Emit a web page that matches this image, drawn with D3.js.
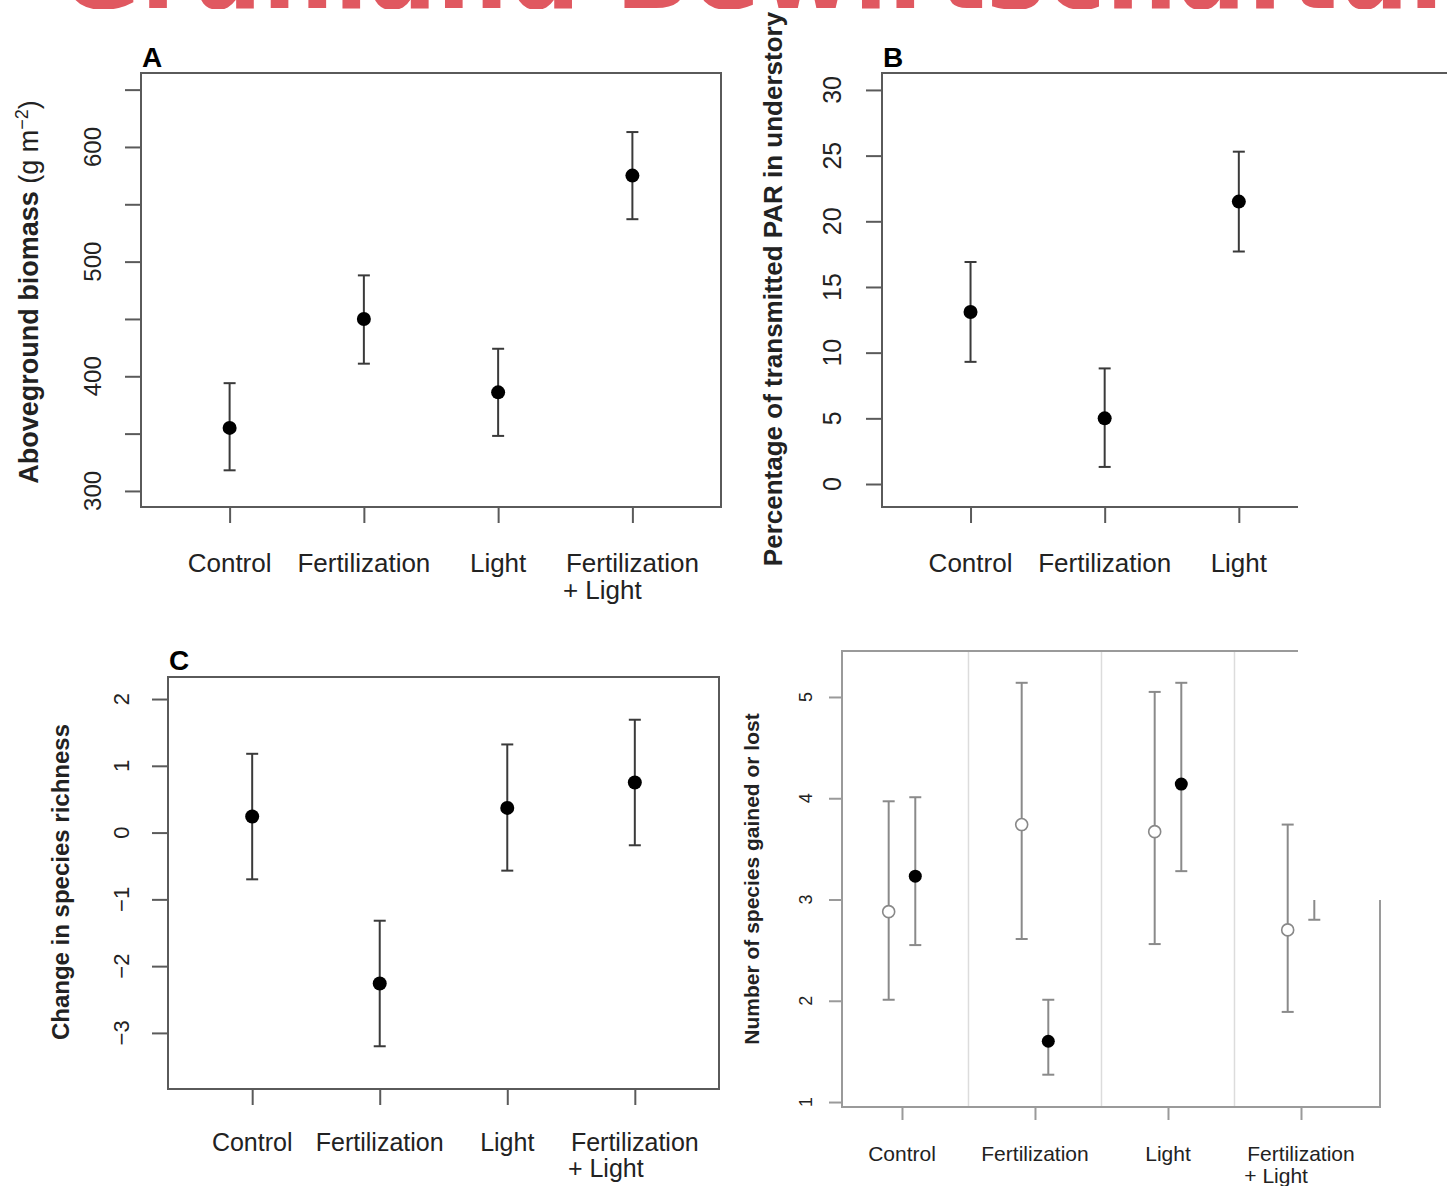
<!DOCTYPE html>
<html>
<head>
<meta charset="utf-8">
<script src="https://cdn.jsdelivr.net/npm/d3@7"></script>
<style>
  body { margin: 0; background: #fff; }
  svg { display: block; font-family: "Liberation Sans", Arial, sans-serif; }
</style>
</head>
<body>
<svg id="chart" width="1447" height="1186"></svg>
<script>
// treatment groups, same order in every panel
var groups = ["Control", "Fertilization", "Light", "Fertilization\n+ Light"];

// A - aboveground biomass (g m-2)
var biomassMean = [355, 450, 386, 575];
var biomassLow  = [318, 411, 348, 537];
var biomassHigh = [394, 488, 424, 613];
var biomassTicks = [300, 350, 400, 450, 500, 550, 600, 650];
var biomassLabels = [300, 400, 500, 600];

// B - transmitted PAR (%)
var parMean = [13.1, 5.0, 21.5];
var parLow  = [9.3, 1.3, 17.7];
var parHigh = [16.9, 8.8, 25.3];
var parTicks = [0, 5, 10, 15, 20, 25, 30];

// C - change in species richness
var richMean = [0.24, -2.26, 0.37, 0.75];
var richLow  = [-0.70, -3.20, -0.57, -0.19];
var richHigh = [1.18, -1.32, 1.32, 1.69];
var richTicks = [-3, -2, -1, 0, 1, 2];

// D - species gained / lost (open and filled symbols)
var openMean = [2.88, 3.74, 3.67, 2.70];
var openLow  = [2.01, 2.61, 2.56, 1.89];
var openHigh = [3.97, 5.14, 5.05, 3.74];
var filledMean = [3.23, 1.60, 4.14, 3.55];
var filledLow  = [2.55, 1.27, 3.28, 2.80];
var filledHigh = [4.01, 2.01, 5.14, 4.30];
var countTicks = [1, 2, 3, 4, 5];

var svg = d3.select("#chart");

function fmt(d) { return d < 0 ? "\u2212" + Math.abs(d) : String(d); }

function rows(mean, low, high) {
  return mean.map(function(m, i) { return {i: i + 1, mean: m, low: low[i], high: high[i]}; });
}

// draws one R-style panel: frame, ticks, rotated y labels, error bars
function drawPanel(p) {
  var g = svg.append("g");
  var x = d3.scaleLinear().domain(p.xDomain).range([p.left, p.right]);
  var y = d3.scaleLinear().domain(p.yDomain).range([p.bottom, p.top]);

  // light separators between groups (panel D)
  if (p.grid) {
    g.selectAll(".grid").data(p.grid).enter().append("line")
      .attr("x1", function(d) { return x(d); }).attr("x2", function(d) { return x(d); })
      .attr("y1", p.top).attr("y2", p.bottom)
      .attr("stroke", "#dcdcdc").attr("stroke-width", 1.5);
  }

  g.append("rect")
    .attr("x", p.left).attr("y", p.top)
    .attr("width", p.right - p.left).attr("height", p.bottom - p.top)
    .attr("fill", "none").attr("stroke", p.frame).attr("stroke-width", 2);

  // y ticks
  g.append("g")
    .attr("transform", "translate(" + p.left + ",0)")
    .call(d3.axisLeft(y).tickValues(p.yTicks).tickSize(p.tick).tickFormat(""))
    .call(function(s) { s.select(".domain").remove(); })
    .call(function(s) { s.selectAll("line").attr("stroke", p.frame).attr("stroke-width", 2); });

  g.selectAll(".ylab").data(p.yLabels).enter().append("text")
    .attr("transform", function(d) { return "translate(" + p.yLabelX + "," + y(d) + ") rotate(-90)"; })
    .attr("text-anchor", "middle")
    .style("font-size", p.tickFont + "px")
    .attr("fill", "#222")
    .text(fmt);

  // x ticks
  g.append("g")
    .attr("transform", "translate(0," + p.bottom + ")")
    .call(d3.axisBottom(x).tickValues(d3.range(1, groups.length + 1)).tickSize(p.tick).tickFormat(""))
    .call(function(s) { s.select(".domain").remove(); })
    .call(function(s) { s.selectAll("line").attr("stroke", p.frame).attr("stroke-width", 2); });

  // group labels, second line left-aligned with the first
  groups.forEach(function(name, i) {
    var lines = name.split("\n");
    var t = g.append("text")
      .attr("x", x(i + 1)).attr("y", p.labelY)
      .attr("text-anchor", "middle")
      .style("font-size", p.labelFont + "px")
      .attr("fill", "#222")
      .text(lines[0]);
    if (lines.length > 1) {
      var w = t.node().getComputedTextLength();
      g.append("text")
        .attr("x", x(i + 1) - w / 2 - 3).attr("y", p.labelY + p.lineGap)
        .style("font-size", p.labelFont + "px")
        .attr("fill", "#222")
        .text(lines[1]);
    }
  });

  // error bars + points for each series
  p.series.forEach(function(s) {
    var data = s.data;
    var bars = g.append("g").attr("stroke", p.barColor).attr("stroke-width", 2);
    bars.selectAll(".v").data(data).enter().append("line")
      .attr("x1", function(d) { return x(d.i + s.offset); })
      .attr("x2", function(d) { return x(d.i + s.offset); })
      .attr("y1", function(d) { return y(d.low); })
      .attr("y2", function(d) { return y(d.high); });
    ["low", "high"].forEach(function(k) {
      bars.selectAll(".c" + k).data(data).enter().append("line")
        .attr("x1", function(d) { return x(d.i + s.offset) - p.cap; })
        .attr("x2", function(d) { return x(d.i + s.offset) + p.cap; })
        .attr("y1", function(d) { return y(d[k]); })
        .attr("y2", function(d) { return y(d[k]); });
    });
    g.selectAll(".pt").data(data).enter().append("circle")
      .attr("cx", function(d) { return x(d.i + s.offset); })
      .attr("cy", function(d) { return y(d.mean); })
      .attr("r", s.r)
      .attr("fill", s.filled ? "#000" : "#fff")
      .attr("stroke", s.filled ? "#000" : "#888")
      .attr("stroke-width", s.filled ? 0 : 1.6);
  });

  // axis title
  var title = g.append("text")
    .attr("transform", "translate(" + p.titleX + "," + p.titleY + ") rotate(-90)")
    .attr("text-anchor", "middle")
    .style("font-size", p.titleFont + "px")
    .attr("fill", "#222");
  p.title(title);

  if (p.letter) {
    g.append("text")
      .attr("x", p.letterX).attr("y", p.letterY)
      .style("font-size", "28px").style("font-weight", "bold")
      .text(p.letter);
  }
}

// A
drawPanel({
  left: 141, right: 721, top: 73, bottom: 507,
  xDomain: [0.34, 4.66], yDomain: [286, 664.5],
  yTicks: biomassTicks, yLabels: biomassLabels,
  tick: 16, yLabelX: 101, tickFont: 24,
  labelY: 572, labelFont: 26, lineGap: 27,
  frame: "#5a5a5a", barColor: "#3a3a3a", cap: 6,
  series: [{data: rows(biomassMean, biomassLow, biomassHigh), offset: 0, r: 7, filled: true}],
  titleX: 38, titleY: 292, titleFont: 27,
  title: function(t) {
    t.append("tspan").style("font-weight", "bold").text("Aboveground biomass");
    t.append("tspan").text("  (g m");
    t.append("tspan").attr("dy", -10).style("font-size", "18px").text("\u22122");
    t.append("tspan").attr("dy", 10).text(")");
  },
  letter: "A", letterX: 142, letterY: 67
});

// B
drawPanel({
  left: 882, right: 1461.5, top: 73, bottom: 507,
  xDomain: [0.34, 4.66], yDomain: [-1.75, 31.29],
  yTicks: parTicks, yLabels: parTicks,
  tick: 16, yLabelX: 841, tickFont: 25,
  labelY: 572, labelFont: 26, lineGap: 27,
  frame: "#5a5a5a", barColor: "#3a3a3a", cap: 6,
  series: [{data: rows(parMean, parLow, parHigh), offset: 0, r: 7, filled: true}],
  titleX: 782, titleY: 289, titleFont: 26,
  title: function(t) {
    t.style("font-weight", "bold").text("Percentage of transmitted PAR in understory");
  },
  letter: "B", letterX: 883, letterY: 67
});

// C
drawPanel({
  left: 168, right: 719, top: 677, bottom: 1089,
  xDomain: [0.34, 4.66], yDomain: [-3.84, 2.33],
  yTicks: richTicks, yLabels: richTicks,
  tick: 16, yLabelX: 129, tickFont: 22,
  labelY: 1151, labelFont: 25, lineGap: 26,
  frame: "#5a5a5a", barColor: "#3a3a3a", cap: 6,
  series: [{data: rows(richMean, richLow, richHigh), offset: 0, r: 7, filled: true}],
  titleX: 69, titleY: 882, titleFont: 24,
  title: function(t) {
    t.style("font-weight", "bold").text("Change in species richness");
  },
  letter: "C", letterX: 169, letterY: 670
});

// D
drawPanel({
  left: 842, right: 1380, top: 651, bottom: 1107,
  xDomain: [0.549, 4.594], yDomain: [0.951, 5.454],
  yTicks: countTicks, yLabels: countTicks,
  tick: 13, yLabelX: 812, tickFont: 18,
  labelY: 1161, labelFont: 21, lineGap: 22,
  frame: "#9a9a9a", barColor: "#8a8a8a", cap: 6,
  grid: [1.5, 2.5, 3.5],
  series: [
    {data: rows(openMean, openLow, openHigh), offset: -0.1, r: 6, filled: false},
    {data: rows(filledMean, filledLow, filledHigh), offset: 0.1, r: 6.5, filled: true}
  ],
  titleX: 759, titleY: 879, titleFont: 21,
  title: function(t) {
    t.style("font-weight", "bold").text("Number of species gained or lost");
  }
});

// white patch over the right side of B and upper right of D
svg.append("rect")
  .attr("x", 1298).attr("y", 76)
  .attr("width", 149).attr("height", 824)
  .attr("fill", "#fff");

// red headline, only its bottom edge shows at the very top
svg.append("clipPath").attr("id", "topclip")
  .append("rect").attr("x", 0).attr("y", 0).attr("width", 1447).attr("height", 9);
svg.append("text")
  .attr("clip-path", "url(#topclip)")
  .attr("x", 58).attr("y", 8)
  .style("font-family", "'Liberation Sans Narrow', 'DejaVu Sans Condensed', sans-serif")
  .style("font-weight", "bold")
  .style("font-size", "112px")
  .attr("fill", "#e05860")
  .text("Grünland Bewirtschaftung. Konkurrenz um Licht");
</script>
</body>
</html>
